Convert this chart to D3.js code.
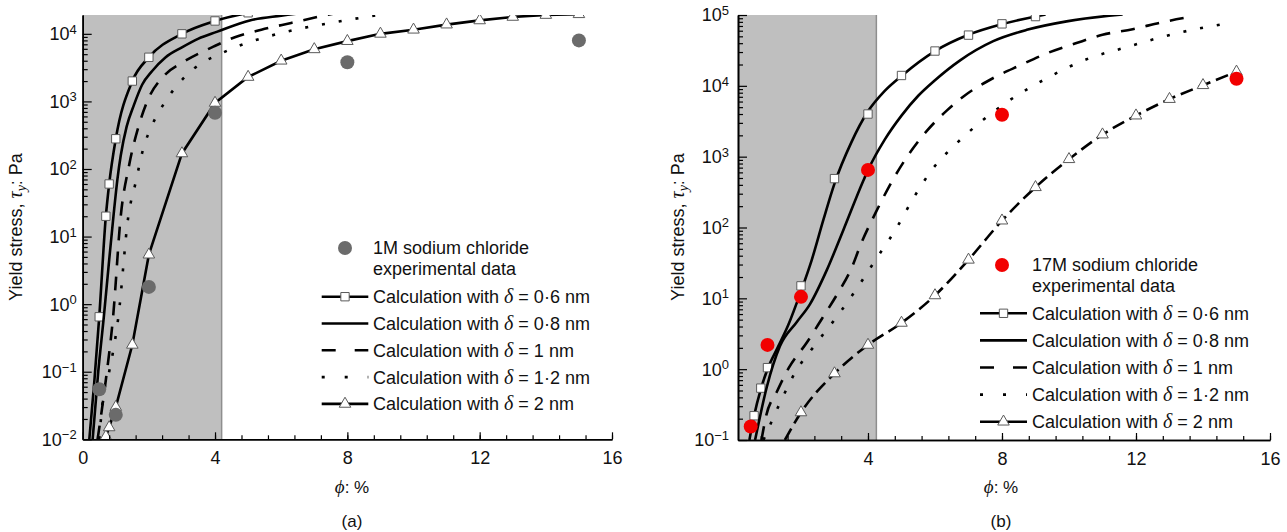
<!DOCTYPE html>
<html>
<head>
<meta charset="utf-8">
<title>Yield stress against solid fraction</title>
<script src="https://d3js.org/d3.v7.min.js"></script>
<style>
  body { margin: 0; background: #fff; }
  svg { display: block; }
</style>
</head>
<body>
<svg id="chart" width="1287" height="532"></svg>
<script>
// ---- panel (a): 1M sodium chloride ----
const a06Phi = [0.2, 0.35, 0.5, 0.7, 0.8, 1, 1.5, 2, 3, 4, 5];
const a06Tau = [0.01, 0.07, 0.65, 20, 60, 280, 2000, 4500, 10000, 15500, 20500];
const a06MarkPhi = [0.5, 0.7, 0.8, 1, 1.5, 2, 3, 4, 5];
const a06MarkTau = [0.65, 20, 60, 280, 2000, 4500, 10000, 15500, 20500];

const a08Phi = [0.3, 0.47, 0.64, 0.8, 0.93, 1.05, 1.15, 1.33, 1.55, 1.8, 2.1, 2.5, 3.0, 3.5, 4.05, 5.05, 6.0, 7.0];
const a08Tau = [0.01, 0.1, 0.66, 4.5, 20, 71, 158, 427, 890, 1780, 2820, 4470, 6310, 8510, 10700, 15800, 18600, 21400];

const a10Phi = [0.45, 0.7, 0.92, 1.15, 1.4, 1.7, 1.95, 2.5, 3.0, 3.95, 4.6, 5.4, 6.3, 7.2, 7.6];
const a10Tau = [0.01, 0.076, 0.66, 20, 112, 447, 1000, 2510, 3720, 6460, 8910, 11500, 14500, 18200, 20000];

const a12Phi = [0.5, 0.62, 0.8, 1.08, 1.38, 1.6, 1.83, 2.1, 2.5, 3.14, 3.6, 4.1, 4.6, 5.6, 6.6, 7.7, 8.7, 9.3];
const a12Tau = [0.01, 0.043, 0.1, 0.66, 20, 63, 200, 447, 1000, 2450, 3720, 4900, 6310, 9120, 12000, 15100, 18200, 20000];

const a2Phi = [0.65, 0.7, 0.8, 1, 1.5, 2, 3, 4, 5, 6, 7, 8, 9, 10, 11, 12, 13, 14, 15];
const a2Tau = [0.0095, 0.011, 0.015, 0.03, 0.25, 5.4, 170, 950, 2300, 4000, 5900, 7800, 10000, 11500, 13700, 15800, 17800, 19000, 19500];
const a2MarkPhi = a2Phi.slice(1);
const a2MarkTau = a2Tau.slice(1);

const aExpPhi = [0.5, 1, 2, 4, 8, 15];
const aExpTau = [0.055, 0.023, 1.8, 680, 3800, 8000];

// ---- panel (b): 17M sodium chloride ----
const b06Phi = [0.46, 0.6, 0.8, 1.0, 1.3, 1.62, 2.0, 2.32, 2.67, 3.0, 3.5, 4.0, 4.5, 5, 6, 7, 8, 9, 9.3];
const b06Tau = [0.1, 0.22, 0.52, 1.0, 2.0, 4.2, 12.6, 34.7, 129, 417, 1580, 4370, 8510, 13800, 30900, 52500, 74100, 95500, 102000];
const b06MarkPhi = [0.6, 0.8, 1.0, 2, 3, 4, 5, 6, 7, 8, 9];
const b06MarkTau = [0.22, 0.54, 1.05, 15, 490, 4000, 14000, 31000, 52000, 75000, 95000];

const b08Phi = [0.63, 0.98, 1.37, 1.87, 2.27, 2.77, 3.26, 3.86, 4.0, 4.5, 5.0, 5.5, 6.0, 6.75, 7.74, 8.74, 9.93, 11.2, 11.6];
const b08Tau = [0.1, 0.56, 2.1, 4.6, 8.3, 25, 91, 457, 646, 1740, 3800, 7240, 12000, 22900, 42700, 61700, 81300, 97700, 102000];

const b10Phi = [0.82, 0.96, 1.28, 1.64, 2.18, 2.63, 3.07, 3.52, 3.8, 4.24, 4.75, 5.2, 5.75, 6.35, 6.85, 7.74, 8.54, 9.34, 10.2, 11.0, 11.9, 12.8, 13.7];
const b10Tau = [0.1, 0.22, 0.48, 1.05, 2.4, 5.2, 11.2, 27.5, 60, 166, 479, 1050, 2290, 4470, 7080, 12900, 19500, 28800, 39800, 52500, 63100, 79400, 95500];

const b12Phi = [0.88, 1.37, 1.82, 2.42, 3.07, 3.7, 4.26, 4.81, 5.35, 5.95, 6.65, 7.44, 8.24, 9.23, 10.6, 11.6, 13.2, 14.7];
const b12Tau = [0.1, 0.33, 0.89, 2.2, 5.5, 14.5, 37, 91, 257, 692, 1550, 3310, 6310, 12000, 24500, 33900, 55000, 75900];

const b2Phi = [1.52, 2, 3, 4, 5, 6, 7, 8, 9, 10, 11, 12, 13, 14, 15];
const b2Tau = [0.1, 0.245, 0.87, 2.2, 4.5, 11, 35, 125, 370, 920, 2050, 3800, 6500, 10200, 15800];
const b2MarkPhi = b2Phi.slice(1);
const b2MarkTau = b2Tau.slice(1);

const bExpPhi = [0.5, 1, 2, 4, 8, 15];
const bExpTau = [0.155, 2.2, 10.5, 650, 3900, 12600];

// legend labels
const deltaLabels = ["0·6", "0·8", "1", "1·2", "2"];

const FONT = '"Liberation Sans", Arial, sans-serif';
const SERIF = '"Liberation Serif", "Times New Roman", serif';
const svg = d3.select("#chart");

function drawPanel(p) {
  const x = d3.scaleLinear().domain(p.xDomain).range(p.xRange);
  const y = d3.scaleLog().domain(p.yDomain).range(p.yRange);
  const [x0, x1] = p.xRange, yb = p.yRange[0], yt = p.yRange[1];
  const g = svg.append("g");

  g.append("clipPath").attr("id", p.id + "clip").append("rect")
    .attr("x", x0).attr("y", yt).attr("width", x1 - x0 + 20).attr("height", yb - yt);

  // shaded region
  g.append("rect").attr("x", x0).attr("y", yt)
    .attr("width", x(p.band) - x0).attr("height", yb - yt).attr("fill", "#bfbfbf");
  g.append("line").attr("x1", x(p.band)).attr("x2", x(p.band)).attr("y1", yt).attr("y2", yb)
    .attr("stroke", "#8e8e8e").attr("stroke-width", 1.5);

  const plot = g.append("g").attr("clip-path", `url(#${p.id}clip)`);

  if (!p.expOnTop) drawExp();

  p.series.forEach(s => {
    const line = d3.line().x(d => x(d[0])).y(d => y(d[1]))
      .curve(s.linear ? d3.curveLinear : d3.curveMonotoneX);
    plot.append("path").datum(d3.zip(s.phi, s.tau))
      .attr("d", line).attr("fill", "none").attr("stroke", "#000")
      .attr("stroke-width", 2.6).attr("stroke-dasharray", s.dash || null);
    if (s.mark) {
      plot.selectAll(null).data(d3.zip(s.mark.phi, s.mark.tau)).join("path")
        .attr("transform", d => `translate(${x(d[0])},${y(d[1])})`)
        .attr("d", d3.symbol(s.mark.type, s.mark.size)())
        .attr("fill", "#fff").attr("stroke", "#5a5a5a").attr("stroke-width", 1);
    }
  });

  if (p.expOnTop) drawExp();

  function drawExp() {
    g.selectAll(null).data(d3.zip(p.exp.phi, p.exp.tau)).join("circle")
      .attr("cx", d => x(d[0])).attr("cy", d => y(d[1])).attr("r", 7)
      .attr("fill", p.exp.color);
  }

  // x axis
  const ax = g.append("g").attr("transform", `translate(0,${yb})`);
  ax.call(d3.axisBottom(x).tickValues(p.xMinor).tickSizeInner(-4).tickSizeOuter(0).tickFormat(""));
  const axM = g.append("g").attr("transform", `translate(0,${yb})`);
  axM.call(d3.axisBottom(x).tickValues(p.xMajor).tickSizeInner(-7).tickSizeOuter(0).tickPadding(12).tickFormat(d3.format("d")));
  axM.selectAll("text").attr("font-size", 18).attr("font-family", FONT).attr("fill", "#111");

  // y axis
  const majors = y.ticks().filter(v => Math.abs(Math.log10(v) - Math.round(Math.log10(v))) < 1e-6);
  const minors = y.ticks().filter(v => !majors.includes(v));
  const ay = g.append("g").attr("transform", `translate(${x0},0)`);
  ay.call(d3.axisLeft(y).tickValues(minors).tickSizeInner(-5).tickSizeOuter(0).tickFormat(""));
  const ayM = g.append("g").attr("transform", `translate(${x0},0)`);
  ayM.call(d3.axisLeft(y).tickValues(majors).tickSizeInner(-9).tickSizeOuter(0).tickFormat(""));
  [ax, axM, ay, ayM].forEach(a => {
    a.select(".domain").attr("stroke", "#000").attr("stroke-width", 1.6);
    a.selectAll(".tick line").attr("stroke", "#000").attr("stroke-width", 1.2);
  });

  g.selectAll(null).data(majors).join("text")
    .attr("x", x0 - p.labelGap).attr("y", d => y(d)).attr("dy", "0.36em")
    .attr("text-anchor", "end").attr("font-family", FONT).attr("font-size", 18).attr("fill", "#111")
    .each(function (d) {
      const e = Math.round(Math.log10(d));
      const t = d3.select(this);
      t.append("tspan").text("10");
      t.append("tspan").attr("dy", "-0.5em").attr("font-size", 13)
        .text(e < 0 ? "\u2212" + (-e) : String(e));
    });

  // axis titles
  const yt1 = g.append("text").attr("transform", `translate(${p.yTitleX},${p.yTitleY}) rotate(-90)`)
    .attr("text-anchor", "middle").attr("font-family", FONT).attr("font-size", 18).attr("fill", "#111");
  yt1.append("tspan").text("Yield stress, ");
  yt1.append("tspan").attr("font-family", SERIF).attr("font-style", "italic").attr("font-size", 20).text("τ");
  yt1.append("tspan").attr("font-family", SERIF).attr("font-style", "italic").attr("font-size", 14).attr("dy", 4).text("y");
  yt1.append("tspan").attr("dy", -4).text(": Pa");

  const xt = g.append("text").attr("x", p.xTitleX).attr("y", 493)
    .attr("text-anchor", "middle").attr("font-family", FONT).attr("font-size", 17).attr("fill", "#111");
  xt.append("tspan").attr("font-family", SERIF).attr("font-style", "italic").attr("font-size", 19).text("ϕ");
  xt.append("tspan").text(": %");

  g.append("text").attr("x", p.xTitleX).attr("y", 527).attr("text-anchor", "middle")
    .attr("font-family", FONT).attr("font-size", 17).attr("fill", "#111").text(p.tag);

  // legend
  const L = p.legend;
  g.append("circle").attr("cx", L.dotX).attr("cy", L.titleY).attr("r", 7).attr("fill", p.exp.color);
  [p.exp.name, "experimental data"].forEach((t, i) => {
    g.append("text").attr("x", L.textX).attr("y", L.titleY + i * 20.5).attr("dy", "0.36em")
      .attr("font-family", FONT).attr("font-size", 18).attr("fill", "#111").text(t);
  });
  p.series.forEach((s, i) => {
    const yy = L.rowY + i * L.rowStep;
    g.append("line").attr("x1", L.lineX[0]).attr("x2", L.lineX[1]).attr("y1", yy).attr("y2", yy)
      .attr("stroke", "#000").attr("stroke-width", 2.6).attr("stroke-dasharray", s.legendDash || null);
    if (s.mark) {
      g.append("path").attr("transform", `translate(${(L.lineX[0] + L.lineX[1]) / 2},${yy})`)
        .attr("d", d3.symbol(s.mark.type, s.mark.size)())
        .attr("fill", "#fff").attr("stroke", "#5a5a5a").attr("stroke-width", 1);
    }
    const t = g.append("text").attr("x", L.textX).attr("y", yy).attr("dy", "0.36em")
      .attr("font-family", FONT).attr("font-size", 18).attr("fill", "#111");
    t.append("tspan").text("Calculation with ");
    t.append("tspan").attr("font-family", SERIF).attr("font-style", "italic").attr("font-size", 20).text("δ");
    t.append("tspan").text(" = " + deltaLabels[i] + " nm");
  });
}

const sq = { type: d3.symbolSquare, size: 70 };
const tri = { type: d3.symbolTriangle, size: 58 };

drawPanel({
  id: "a", tag: "(a)",
  xDomain: [0, 16], xRange: [82.7, 612],
  yDomain: [0.01, 1.9e4], yRange: [439.3, 15],
  band: 4.2, labelGap: 6,
  xMajor: [0, 4, 8, 12, 16], xMinor: d3.range(0.8, 16.01, 0.8),
  yTitleX: 22, yTitleY: 227, xTitleX: 352,
  expOnTop: false,
  exp: { phi: aExpPhi, tau: aExpTau, color: "#6b6b6b", name: "1M sodium chloride" },
  series: [
    { phi: a06Phi, tau: a06Tau, mark: Object.assign({ phi: a06MarkPhi, tau: a06MarkTau }, sq) },
    { phi: a08Phi, tau: a08Tau },
    { phi: a10Phi, tau: a10Tau, dash: "14,11", legendDash: "14,19" },
    { phi: a12Phi, tau: a12Tau, dash: "3,14", legendDash: "3,20" },
    { phi: a2Phi, tau: a2Tau, linear: true, mark: Object.assign({ phi: a2MarkPhi, tau: a2MarkTau }, tri) }
  ],
  legend: { dotX: 345, textX: 373, titleY: 248, rowY: 296.7, rowStep: 26.8, lineX: [321.7, 368.3] }
});

drawPanel({
  id: "b", tag: "(b)",
  xDomain: [0.12, 16], xRange: [738, 1270],
  yDomain: [0.1, 1e5], yRange: [440, 15],
  band: 4.25, labelGap: 9,
  xMajor: [4, 8, 12, 16], xMinor: d3.range(0.8, 16.01, 0.8),
  yTitleX: 684, yTitleY: 227, xTitleX: 1001,
  expOnTop: true,
  exp: { phi: bExpPhi, tau: bExpTau, color: "#f20000", name: "17M sodium chloride" },
  series: [
    { phi: b06Phi, tau: b06Tau, mark: Object.assign({ phi: b06MarkPhi, tau: b06MarkTau }, sq) },
    { phi: b08Phi, tau: b08Tau },
    { phi: b10Phi, tau: b10Tau, dash: "14,11", legendDash: "14,19" },
    { phi: b12Phi, tau: b12Tau, dash: "3,14", legendDash: "3,20" },
    { phi: b2Phi, tau: b2Tau, dash: "13,6", mark: Object.assign({ phi: b2MarkPhi, tau: b2MarkTau }, tri) }
  ],
  legend: { dotX: 1002, textX: 1032, titleY: 265, rowY: 313.3, rowStep: 27.1, lineX: [980, 1027] }
});
</script>
</body>
</html>
